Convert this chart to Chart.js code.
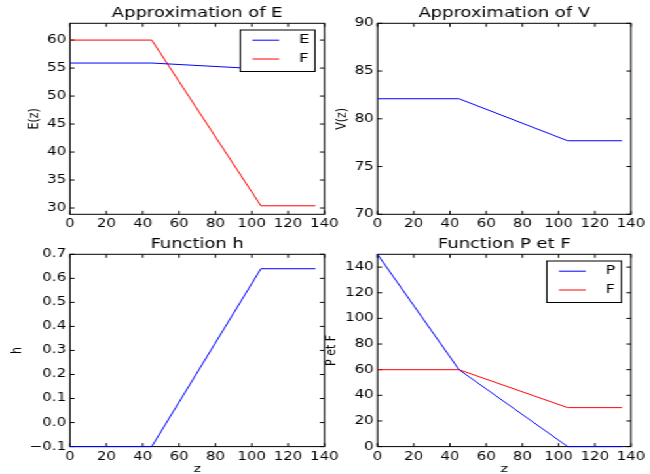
<!DOCTYPE html>
<html>
<head>
<meta charset="utf-8">
<script src="https://cdn.jsdelivr.net/npm/chart.js@4.4.0/dist/chart.umd.min.js"></script>
<style>
  html, body { margin: 0; padding: 0; background: #fff; overflow: hidden; width: 650px; height: 474px; }
  #wrap { position: absolute; left: 0; top: 0; width: 496.2px; height: 474px; transform: scaleX(1.31); transform-origin: 0 0; }
  canvas { position: absolute; }
</style>
</head>
<body>
<div id="wrap">
  <canvas id="cE" width="262" height="237" style="left:0px;top:0px;"></canvas>
  <canvas id="cV" width="260" height="237" style="left:236px;top:0px;"></canvas>
  <canvas id="cH" width="262" height="250" style="left:0px;top:231px;"></canvas>
  <canvas id="cP" width="260" height="250" style="left:236px;top:231px;"></canvas>
</div>
<script>
// ---- data ----
const z = [0, 45, 105, 135];
const E = [55.9, 55.9, 54.85, 54.85];
const F = [60, 60, 30.4, 30.4];
const V = [82.1, 82.1, 77.7, 77.7];
const h = [-0.1, -0.1, 0.64, 0.64];
const P = [150, 60, 0, 0];
const xTicks = [0, 20, 40, 60, 80, 100, 120, 140];
const eTicks = [30, 35, 40, 45, 50, 55, 60];
const vTicks = [70, 75, 80, 85, 90];
const hTicks = [-0.1, 0, 0.1, 0.2, 0.3, 0.4, 0.5, 0.6, 0.7];
const pTicks = [0, 20, 40, 60, 80, 100, 120, 140];

Chart.defaults.font.family = '"DejaVu Sans"';
Chart.defaults.color = '#000';

const pts = (ys) => z.map((v, i) => ({ x: v, y: ys[i] }));
const fmt = (v, dec) => (dec ? (Math.round(v * 10) / 10).toFixed(dec) : String(Math.round(v))).replace('-', '\u2212');

const framePlugin = {
  id: 'frame',
  beforeDatasetsDraw(chart) {
    const { ctx, chartArea: a, scales } = chart;
    ctx.save();
    ctx.strokeStyle = '#000';
    ctx.lineWidth = 1;
    ctx.strokeRect(a.left, a.top, a.right - a.left, a.bottom - a.top);
    const L = 3.5;
    ctx.beginPath();
    scales.x.ticks.forEach(t => {
      const p = scales.x.getPixelForValue(t.value);
      ctx.moveTo(p, a.bottom); ctx.lineTo(p, a.bottom - L);
      ctx.moveTo(p, a.top); ctx.lineTo(p, a.top + L);
    });
    scales.y.ticks.forEach(t => {
      const p = scales.y.getPixelForValue(t.value);
      ctx.moveTo(a.left, p); ctx.lineTo(a.left + L, p);
      ctx.moveTo(a.right, p); ctx.lineTo(a.right - L, p);
    });
    ctx.stroke();
    ctx.restore();
  }
};

const legendPlugin = {
  id: 'insideLegend',
  afterDatasetsDraw(chart, args, opts) {
    if (!opts || !opts.show) return;
    const a = chart.chartArea, ctx = chart.ctx;
    const w = 57, hg = 41.5;
    const x0 = a.right - 7.3 - w, y0 = a.top + 6.7;
    ctx.save();
    ctx.fillStyle = '#fff';
    ctx.fillRect(x0, y0, w, hg);
    ctx.strokeStyle = '#000';
    ctx.lineWidth = 1;
    ctx.strokeRect(x0, y0, w, hg);
    chart.data.datasets.forEach((ds, i) => {
      const y = y0 + 10.2 + i * 18.8;
      ctx.strokeStyle = ds.borderColor;
      ctx.lineWidth = 1;
      ctx.beginPath(); ctx.moveTo(x0 + 9.3, y); ctx.lineTo(x0 + 29.7, y); ctx.stroke();
      ctx.fillStyle = '#000';
      ctx.font = '12.5px "DejaVu Sans"';
      ctx.textBaseline = 'middle';
      ctx.textAlign = 'left';
      ctx.fillText(ds.label, x0 + 44.8, y);
    });
    ctx.restore();
  }
};

function makeChart(id, o) {
  const ds = o.series.map(s => ({
    label: s.label, data: pts(s.data), borderColor: s.color, backgroundColor: s.color,
    borderWidth: 1, pointRadius: 0, tension: 0, fill: false, clip: 3
  }));
  new Chart(document.getElementById(id), {
    type: 'line',
    data: { datasets: ds },
    plugins: [framePlugin, legendPlugin],
    options: {
      responsive: false, animation: false,
      layout: { padding: { left: 0, right: o.padRight, top: 0, bottom: 0 } },
      plugins: {
        legend: { display: false },
        tooltip: { enabled: false },
        title: {
          display: true, text: o.title, fullSize: false,
          font: { size: 13.7, weight: 'normal' }, color: '#000',
          padding: { top: o.tPadTop, bottom: o.tPadBottom }
        },
        insideLegend: { show: !!o.legend }
      },
      scales: {
        x: {
          type: 'linear', min: 0, max: 140,
          grid: { display: false, drawTicks: false }, border: { display: false },
          afterBuildTicks: s => { s.ticks = xTicks.map(v => ({ value: v })); },
          afterFit: s => { s.height = o.xHeight; },
          ticks: { autoSkip: false, maxRotation: 0, padding: 3.4, font: { size: 11.4 }, callback: v => fmt(v, 0) },
          title: o.xTitle ? { display: true, text: o.xTitle, font: { size: 11 }, padding: { top: 0, bottom: o.xTitlePad } } : { display: false }
        },
        y: {
          type: 'linear', min: o.ymin, max: o.ymax,
          grid: { display: false, drawTicks: false }, border: { display: false },
          afterBuildTicks: s => { s.ticks = o.yTicks.map(v => ({ value: v })); },
          afterFit: s => { s.width = o.yWidth; },
          ticks: { autoSkip: false, padding: 3, font: { size: 11.4 }, callback: v => fmt(v, o.yDec || 0) },
          title: { display: true, text: o.yTitle, font: { size: 11 }, padding: { top: o.yTitlePad, bottom: 0 } }
        }
      }
    }
  });
}

makeChart('cE', {
  title: 'Approximation of E', series: [{ label: 'E', data: E, color: '#0000ff' }, { label: 'F', data: F, color: '#ff0000' }],
  legend: true, ymin: 28.88, ymax: 63, yTicks: eTicks, yTitle: 'E(z)', yTitlePad: 19.2,
  yWidth: 53.4, padRight: 12.6, xHeight: 22.7, tPadTop: 5.1, tPadBottom: 1.76
});
makeChart('cV', {
  title: 'Approximation of V', series: [{ label: 'V', data: V, color: '#0000ff' }],
  legend: false, ymin: 70, ymax: 90, yTicks: vTicks, yTitle: 'V(z)', yTitlePad: 18.5,
  yWidth: 52.2, padRight: 12.0, xHeight: 22.7, tPadTop: 5.1, tPadBottom: 1.76
});
makeChart('cH', {
  title: 'Function h', series: [{ label: 'h', data: h, color: '#0000ff' }],
  legend: false, ymin: -0.1, ymax: 0.7, yTicks: hTicks, yDec: 1, yTitle: 'h', yTitlePad: 6.9,
  yWidth: 53.4, padRight: 12.6, xHeight: 34.4, tPadTop: 5.5, tPadBottom: 1.36, xTitle: 'z', xTitlePad: 4.9
});
makeChart('cP', {
  title: 'Function P et F', series: [{ label: 'P', data: P, color: '#0000ff' }, { label: 'F', data: F, color: '#ff0000' }],
  legend: true, ymin: 0, ymax: 150, yTicks: pTicks, yTitle: 'P et F', yTitlePad: 10.8,
  yWidth: 52.2, padRight: 12.0, xHeight: 34.4, tPadTop: 5.5, tPadBottom: 1.36, xTitle: 'z', xTitlePad: 4.9
});
</script>
</body>
</html>
